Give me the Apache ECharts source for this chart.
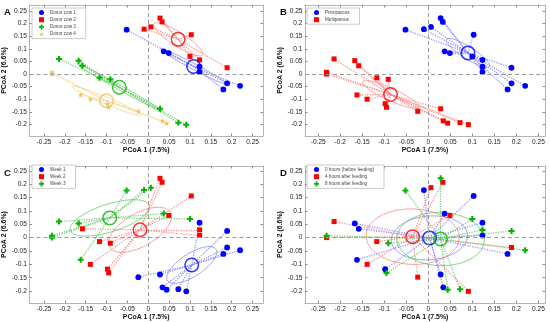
<!DOCTYPE html>
<html><head><meta charset="utf-8">
<script src="https://cdn.jsdelivr.net/npm/echarts@6/dist/echarts.min.js"></script>
<style>html,body{margin:0;padding:0;background:#fff}#c{width:550px;height:322px}</style>
</head><body><div id="c"></div>
<script>
// ---- data: 33 samples (PCoA coordinates) ----
const pcoa1 = [-0.052,0.037,0.049,0.123,0.123,0.189,0.180,0.220,
  -0.010,0.006,0.028,0.033,0.103,0.100,0.123,0.189,
  -0.214,-0.167,-0.158,-0.117,-0.091,0.028,0.072,0.091,
  -0.231,-0.231,-0.162,-0.139,-0.098,-0.095,-0.024,0.034,0.044];
const pcoa2 = [0.176,0.090,0.083,0.029,0.008,-0.037,-0.061,-0.047,
  0.178,0.187,0.222,0.207,0.156,0.070,0.056,0.025,
  0.060,0.053,0.033,-0.015,-0.021,-0.138,-0.193,-0.201,
  0.007,0.000,-0.083,-0.100,-0.118,-0.132,-0.148,-0.186,-0.195];
// group membership per panel (0-based group index)
const cowGroup    = [0,0,0,0,0,0,0,0, 1,1,1,1,1,1,1,1, 2,2,2,2,2,2,2,2, 3,3,3,3,3,3,3,3,3];
const parityGroup = [0,0,0,0,0,0,0,0, 0,0,0,0,0,0,0,0, 1,1,1,1,1,1,1,1, 1,1,1,1,1,1,1,1,1];
const weekGroup   = [2,2,1,1,1,0,0,0, 2,2,1,1,1,2,0,0, 2,2,1,1,1,0,0,0, 2,2,2,1,1,1,0,0,0];
const hourGroup   = [2,0,1,2,0,1,0,2, 0,1,2,1,0,2,0,2, 1,0,0,1,2,0,2,1, 2,1,0,1,0,2,1,0,2];
const cowNames    = ['Donor cow 1','Donor cow 2','Donor cow 3','Donor cow 4'];
const parityNames = ['Primiparous','Multiparous'];
const weekNames   = ['Week 1','Week 2','Week 3'];
const hourNames   = ['0 hours (before feeding)','4 hours after feeding','8 hours after feeding'];
const xTicks = [-0.25,-0.2,-0.15,-0.1,-0.05,0,0.05,0.1,0.15,0.2,0.25];
const yTicks = [-0.2,-0.15,-0.1,-0.05,0,0.05,0.1,0.15,0.2,0.25];
const panelLetters = ['A','B','C','D'];

// ---- styles ----
const PLUS = 'path://M3.3,0H6.7V3.3H10V6.7H6.7V10H3.3V6.7H0V3.3H3.3Z';
const STAR = 'path://M5,0L6.2,3.6L10,3.6L6.9,5.8L8.1,9.5L5,7.2L1.9,9.5L3.1,5.8L0,3.6L3.8,3.6Z';
const styles = [
  {c:'#0000ff', l:'#7f7fff', sym:'circle', size:5.8},
  {c:'#ff0000', l:'#ff8080', sym:'rect', size:5},
  {c:'#00b400', l:'#5cc85c', sym:PLUS, size:6},
  {c:'#efc25a', l:'#f0d38a', sym:STAR, size:6}
];
const panels = [
  {groups:cowGroup, names:cowNames, st:[0,1,2,3], grid:{left:29,top:5,width:234,height:131}, xr:[-0.285,0.275], yr:[-0.246,0.274], leg:{left:32,top:8}},
  {groups:parityGroup, names:parityNames, st:[0,1], grid:{left:305,top:5,width:240,height:131}, xr:[-0.28,0.265], yr:[-0.246,0.274], leg:{left:307,top:8}},
  {groups:weekGroup, names:weekNames, st:[0,1,2], grid:{left:29,top:166,width:234,height:138}, xr:[-0.285,0.275], yr:[-0.245,0.268], leg:{left:32,top:165}},
  {groups:hourGroup, names:hourNames, st:[0,1,2], grid:{left:305,top:166,width:240,height:138}, xr:[-0.28,0.265], yr:[-0.245,0.268], leg:{left:307,top:165}}
];

const FONT = 'Liberation Sans, Arial, sans-serif';
const frame = '#b4b4b4';
const K95 = Math.sqrt(5.991464547); // sqrt(chi2 0.95, 2 df)

function stats(idx){
  const n = idx.length;
  let mx=0,my=0; idx.forEach(i=>{mx+=pcoa1[i];my+=pcoa2[i];}); mx/=n; my/=n;
  let sxx=0,syy=0,sxy=0;
  idx.forEach(i=>{const dx=pcoa1[i]-mx, dy=pcoa2[i]-my; sxx+=dx*dx; syy+=dy*dy; sxy+=dx*dy;});
  sxx/=(n-1); syy/=(n-1); sxy/=(n-1);
  const tr=sxx+syy, det=sxx*syy-sxy*sxy, d=Math.sqrt(Math.max(tr*tr/4-det,0));
  const l1=tr/2+d, l2=Math.max(tr/2-d,0);
  let v1 = Math.abs(sxy)>1e-12 ? [l1-syy, sxy] : (sxx>=syy?[1,0]:[0,1]);
  const nv=Math.hypot(v1[0],v1[1]); v1=[v1[0]/nv,v1[1]/nv];
  const v2=[-v1[1],v1[0]];
  const s=K95/Math.sqrt(n);
  return {mx,my,a:[v1[0]*Math.sqrt(l1)*s, v1[1]*Math.sqrt(l1)*s], b:[v2[0]*Math.sqrt(l2)*s, v2[1]*Math.sqrt(l2)*s]};
}

const grids=[], xAxes=[], yAxes=[], series=[], legends=[], graphics=[];
panels.forEach((p,pi)=>{
  grids.push(Object.assign({containLabel:false}, p.grid));
  const xa = {gridIndex:pi, type:'value', min:p.xr[0], max:p.xr[1], splitLine:{show:false},
      axisLine:{show:true,onZero:false,lineStyle:{color:frame,width:1}},
      axisTick:{show:true,inside:true,length:2.5,customValues:xTicks,lineStyle:{color:'#8a8a8a'}}};
  xAxes.push(Object.assign({}, xa, {position:'bottom',
      axisLabel:{show:true,customValues:xTicks,fontSize:6.6,color:'#222',margin:3,fontFamily:FONT},
      name:'PCoA 1 (7.5%)', nameLocation:'middle', nameGap:8.5,
      nameTextStyle:{fontSize:6.9,fontWeight:'bold',color:'#111',fontFamily:FONT,verticalAlign:'top'}}));
  xAxes.push(Object.assign({}, xa, {position:'top', axisLabel:{show:false}}));
  const ya = {gridIndex:pi, type:'value', min:p.yr[0], max:p.yr[1], splitLine:{show:false},
      axisLine:{show:true,onZero:false,lineStyle:{color:frame,width:1}},
      axisTick:{show:true,inside:true,length:2.5,customValues:yTicks,lineStyle:{color:'#8a8a8a'}}};
  yAxes.push(Object.assign({}, ya, {position:'left',
      axisLabel:{show:true,customValues:yTicks,fontSize:6.6,color:'#222',margin:2.5,fontFamily:FONT},
      name:'PCoA 2 (6.6%)', nameLocation:'middle', nameGap:16.5, nameRotate:90,
      nameTextStyle:{fontSize:6.9,fontWeight:'bold',color:'#111',fontFamily:FONT}}));
  yAxes.push(Object.assign({}, ya, {position:'right', axisLabel:{show:false}}));

  const xi=pi*2, yi=pi*2;
  // zero lines
  series.push({type:'scatter', xAxisIndex:xi, yAxisIndex:yi, data:[], silent:true, z:0,
    markLine:{silent:true, symbol:'none', animation:false, label:{show:false},
      lineStyle:{type:[4,3],color:'#9a9a9a',width:1},
      data:[{xAxis:0},{yAxis:0}]}});

  const legData=[];
  p.names.forEach((nm,g)=>{
    const st = styles[p.st[g]];
    const idx = p.groups.map((v,i)=>v===g?i:-1).filter(i=>i>=0);
    const S = stats(idx);
    // ellipse (95% confidence of centroid)
    series.push({type:'custom', xAxisIndex:xi, yAxisIndex:yi, silent:true, z:1, clip:true,
      data:[[S.mx,S.my]],
      renderItem:(params,api)=>{
        const pts=[];
        for(let k=0;k<=90;k++){const t=k/90*2*Math.PI, c=Math.cos(t), s=Math.sin(t);
          pts.push(api.coord([S.mx+c*S.a[0]+s*S.b[0], S.my+c*S.a[1]+s*S.b[1]]));}
        return {type:'polyline', shape:{points:pts}, style:{stroke:st.l, fill:null, lineWidth:0.9, opacity:0.85}};
      }});
    // spider lines
    series.push({type:'lines', coordinateSystem:'cartesian2d', xAxisIndex:xi, yAxisIndex:yi, silent:true, z:2,
      data: idx.map(i=>({coords:[[pcoa1[i],pcoa2[i]],[S.mx,S.my]]})),
      lineStyle:{color:st.l, width:1.3, type:[1.2,1.3], opacity:0.85, curveness:0}});
    // points
    series.push({type:'scatter', name:nm, xAxisIndex:xi, yAxisIndex:yi, z:3,
      symbol:st.sym, symbolSize:st.size, itemStyle:{color:st.c, opacity:1},
      data: idx.map(i=>[pcoa1[i],pcoa2[i]])});
    // centroid
    series.push({type:'scatter', xAxisIndex:xi, yAxisIndex:yi, z:4, silent:true,
      symbol:'circle', symbolSize:13.5, itemStyle:{color:'rgba(0,0,0,0)', borderColor:st.c, borderWidth:1.5},
      data:[[S.mx,S.my]]});
    legData.push({name:nm, icon:st.sym});
  });
  legends.push({data:legData, orient:'vertical', left:p.leg.left, top:p.leg.top,
    itemWidth:5, itemHeight:5, itemGap:2.2, padding:[2,10,2,7], selectedMode:false,
    backgroundColor:'#fff', borderColor:'#bdbdbd', borderWidth:0.8,
    textStyle:{fontSize:4.6, lineHeight:5, color:'#444', fontFamily:FONT, padding:[0,0,0,1]}});
  graphics.push({type:'text', left:p.grid.left-25, top:p.grid.top+2.5,
    style:{text:panelLetters[pi], font:'bold 9.5px '+FONT, fill:'#111'}});
});

const chart = echarts.init(document.getElementById('c'), null, {renderer:'canvas'});
chart.setOption({animation:false, backgroundColor:'#fff', grid:grids, xAxis:xAxes, yAxis:yAxes,
  legend:legends, series:series, graphic:graphics});
</script></body></html>
